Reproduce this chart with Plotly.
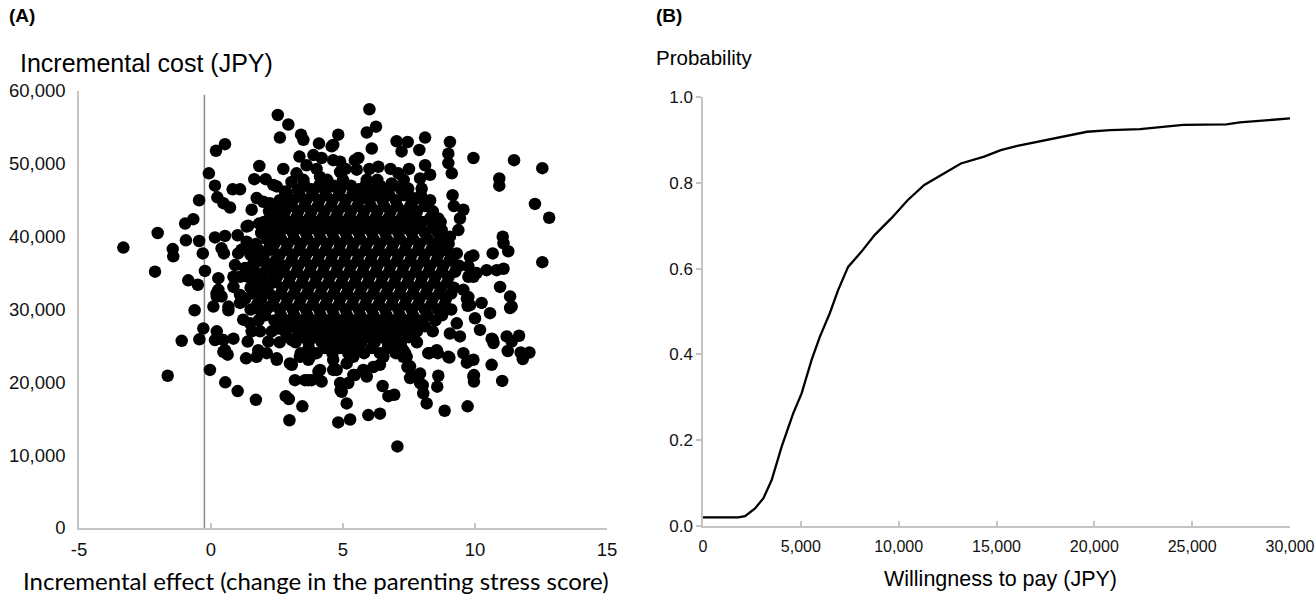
import plotly.graph_objects as go

# ---------------- Panel A data: incremental effect vs incremental cost ----------------
pts_left = [
    (-3.32, 38500), (-2.02, 40500), (-2.12, 35200), (-1.64, 20900), (-1.45, 38300), (-1.43, 37300),
    (-1.11, 25700), (-0.98, 41800), (-0.67, 42400), (-0.95, 39500), (-0.45, 39400), (-0.31, 37700),
    (-0.23, 35300), (-0.86, 34000), (-0.50, 33400), (-0.62, 29900), (-0.45, 45000), (-0.08, 48700),
    (0.15, 47000), (0.19, 51800), (0.53, 52700), (0.82, 46500), (1.10, 46500), (0.24, 45400),
    (0.47, 44600), (0.72, 44000), (0.15, 39900), (0.53, 40100), (0.40, 38400), (0.49, 37700),
    (0.28, 34300), (0.21, 32200), (1.01, 40200), (1.41, 41500), (1.82, 41800), (1.03, 37700),
    (1.35, 39300), (0.91, 36100), (1.10, 34500), (0.85, 33100), (1.10, 32000), (1.60, 36300),
    (2.11, 40000), (2.23, 38600), (2.11, 36300), (2.36, 42300), (2.68, 42700), (2.80, 44600),
    (1.60, 34300), (1.73, 32200), (0.09, 30400), (1.54, 43700), (1.73, 45300), (1.98, 44800),
    (1.83, 49700), (2.74, 49300), (1.64, 47900), (2.07, 47900), (2.49, 46900), (2.80, 46200),
    (3.05, 47500), (3.24, 48700), (-0.29, 27400), (-0.44, 25900), (0.22, 27000), (0.15, 25800),
    (0.47, 25800), (0.85, 26000), (0.47, 24200), (0.63, 23800), (-0.04, 21700), (0.54, 20000),
    (1.01, 18800), (1.70, 17600), (0.66, 29900), (1.10, 30900), (0.22, 31800), (0.53, 24400),
    (1.35, 41400), (1.16, 38200), (1.48, 38200), (1.29, 35700), (0.85, 34500), (0.28, 32700),
    (0.40, 31800), (0.66, 30400), (1.16, 31100), (1.48, 28100), (1.54, 27000), (1.86, 27000),
    (1.79, 24400), (1.86, 29900), (2.23, 30400), (1.86, 32700), (2.23, 33600), (1.98, 35000),
    (2.36, 35900), (1.98, 40900), (2.30, 40000), (2.23, 44600), (2.61, 43200), (2.36, 47100),
    (2.87, 46000), (1.33, 23300), (1.73, 23500), (2.11, 24000), (1.39, 25600), (2.17, 25600),
    (1.22, 28600), (2.55, 27400),
]

pts_bottom = [
    (2.83, 18100), (2.95, 17700), (3.46, 16700), (2.97, 14800), (4.82, 14500), (5.27, 14900),
    (2.49, 23100), (3.06, 22400), (3.18, 20300), (3.69, 20300), (4.19, 20100), (4.07, 21500),
    (4.76, 21700), (4.91, 18900), (5.14, 17100), (3.06, 25800), (3.69, 23100), (4.51, 25100),
    (4.63, 23100), (5.39, 21000), (2.49, 23300), (2.99, 22600), (3.37, 23500), (3.75, 23500),
    (3.56, 20300), (3.81, 20300), (4.13, 21700), (4.63, 21700), (5.14, 22600), (5.39, 23500),
    (5.90, 20800), (6.15, 22100), (6.53, 23500), (6.91, 24900), (7.03, 26500), (4.89, 19900),
    (4.95, 18700), (7.06, 11200), (5.45, 21000), (5.20, 19900), (6.40, 22400), (5.77, 21700),
    (7.28, 23500), (6.94, 18300), (6.72, 18100), (6.50, 19500), (6.40, 15700), (5.96, 15500),
    (8.17, 17100), (8.04, 18500), (7.92, 19900), (7.66, 20800), (7.54, 22200), (7.41, 23500),
    (7.28, 24400), (8.99, 23500), (8.23, 24000), (8.55, 24400), (7.92, 21200), (8.02, 19600),
    (7.54, 20600), (7.44, 22100), (7.35, 24000), (8.61, 20900), (8.57, 19400), (9.72, 16700),
    (8.85, 16100), (9.03, 23400), (8.59, 24000), (8.27, 24000),
]

pts_top = [
    (2.53, 56700), (2.93, 55400), (2.61, 53600), (3.41, 54000), (3.50, 53300), (4.82, 54000),
    (4.09, 52800), (4.57, 52400), (3.35, 51000), (3.88, 51200), (4.19, 50800), (4.63, 50500),
    (3.62, 49800), (4.13, 48200), (4.89, 48900), (5.45, 50500), (5.52, 49200), (5.39, 46400),
    (4.63, 46900), (3.88, 46400), (3.37, 45500), (6.00, 57500), (6.25, 55100), (5.90, 54300),
    (6.09, 52100), (7.03, 53100), (7.45, 53000), (8.11, 53600), (7.22, 51700), (7.89, 51900),
    (9.05, 53000), (8.99, 51400), (8.99, 50100), (9.12, 48700), (9.94, 50800), (11.48, 50500),
    (12.55, 49400), (10.92, 48000), (10.92, 47000), (8.11, 49800), (8.30, 48500), (7.92, 48000),
    (7.10, 48700), (6.84, 47300), (6.34, 49600), (5.58, 50800), (4.89, 50300), (4.63, 52600),
    (7.47, 46600), (7.85, 45300), (7.66, 45000), (7.47, 43400), (7.98, 46600), (7.54, 45500),
]

pts_right = [
    (12.27, 44500), (12.81, 42600), (12.55, 36500), (9.15, 45700), (9.20, 44200), (9.56, 43700),
    (9.43, 42500), (9.37, 40900), (11.05, 40000), (11.08, 39100), (11.26, 38000), (10.67, 37700),
    (9.94, 37400), (9.75, 35900), (10.44, 35400), (11.08, 35600), (9.75, 34500), (10.06, 35000),
    (10.95, 33100), (11.33, 31800), (11.39, 30400), (10.25, 30900), (9.69, 31500), (8.30, 42500),
    (8.61, 42500), (8.74, 40900), (8.86, 39500), (9.31, 37700), (9.05, 36800), (9.56, 32700),
    (9.05, 40000), (8.93, 38600), (9.81, 37200), (9.94, 34500), (10.82, 35400), (9.81, 30600),
    (10.57, 29500), (10.00, 28800), (10.19, 27200), (10.63, 26000), (10.70, 25400), (9.56, 24000),
    (9.94, 23100), (10.63, 22400), (9.94, 20800), (11.33, 30200), (9.75, 31700), (9.72, 30500),
    (10.67, 25900), (11.20, 26300), (11.67, 26400), (11.39, 25600), (11.24, 24300), (11.73, 24100),
    (12.06, 24100), (11.81, 23200), (11.03, 20200), (9.96, 21000), (9.96, 20100), (9.69, 22700),
    (9.05, 26700), (9.43, 26300), (9.31, 28100),
]

# dense centre of the cloud, read row by row (cost level, effects)
core_rows = [
    (49300, [4.0, 5.1, 6.0, 6.8, 7.5]),
    (47800, [3.5, 4.4, 5.0, 5.9, 6.3, 7.3]),
    (47000, [3.55, 4.1, 4.65, 5.3, 5.85, 6.4, 6.9]),
    (46500, [3.3, 3.8, 4.3, 4.9, 5.6, 6.1, 6.6, 7.2]),
    (45700, [2.85, 3.35, 3.85, 4.35, 4.85, 5.35, 5.85, 6.25, 6.75, 7.3, 7.95]),
    (45000, [2.6, 3.1, 3.6, 4.1, 4.6, 5.1, 5.6, 6.0, 6.5, 7.0, 7.6, 8.3]),
    (44200, [2.5, 3.05, 3.55, 4.05, 4.55, 5.05, 5.55, 6.05, 6.55, 7.05, 7.55, 8.1]),
    (43500, [2.2, 2.8, 3.3, 3.8, 4.3, 4.8, 5.3, 5.8, 6.3, 6.8, 7.3, 7.8, 8.4]),
    (42700, [2.25, 2.75, 3.25, 3.75, 4.25, 4.75, 5.25, 5.75, 6.25, 6.75, 7.25, 7.75, 8.35]),
    (42000, [2.0, 2.5, 3.0, 3.5, 4.0, 4.5, 5.0, 5.5, 6.0, 6.5, 7.0, 7.5, 8.0, 8.7]),
    (41200, [2.3, 2.85, 3.35, 3.85, 4.35, 4.85, 5.35, 5.85, 6.35, 6.85, 7.35, 7.85, 8.4]),
    (40500, [1.9, 2.6, 3.1, 3.6, 4.1, 4.6, 5.1, 5.6, 6.1, 6.6, 7.1, 7.6, 8.1, 8.6]),
    (39700, [2.1, 2.65, 3.15, 3.65, 4.15, 4.65, 5.15, 5.65, 6.15, 6.65, 7.15, 7.65, 8.2, 8.75]),
    (39000, [1.7, 2.4, 2.9, 3.4, 3.9, 4.4, 4.9, 5.4, 5.9, 6.4, 6.9, 7.4, 7.9, 8.5, 9.0]),
    (38200, [1.8, 2.3, 2.85, 3.35, 3.85, 4.35, 4.85, 5.35, 5.85, 6.35, 6.85, 7.35, 7.85, 8.35, 8.85]),
    (37500, [1.5, 2.0, 2.6, 3.1, 3.6, 4.1, 4.6, 5.1, 5.6, 6.1, 6.6, 7.1, 7.6, 8.1, 8.6, 9.2]),
    (36700, [1.85, 2.45, 3.05, 3.55, 4.05, 4.55, 5.05, 5.55, 6.05, 6.55, 7.05, 7.55, 8.05, 8.55, 9.1]),
    (36000, [1.6, 2.2, 2.8, 3.3, 3.8, 4.3, 4.8, 5.3, 5.8, 6.3, 6.8, 7.3, 7.8, 8.3, 8.8, 9.4]),
    (35200, [1.65, 2.2, 2.75, 3.25, 3.75, 4.25, 4.75, 5.25, 5.75, 6.25, 6.75, 7.25, 7.75, 8.25, 8.75, 9.25]),
    (34500, [1.4, 1.9, 2.5, 3.0, 3.5, 4.0, 4.5, 5.0, 5.5, 6.0, 6.5, 7.0, 7.5, 8.0, 8.5, 9.0]),
    (33700, [1.75, 2.35, 2.95, 3.45, 3.95, 4.45, 4.95, 5.45, 5.95, 6.45, 6.95, 7.45, 7.95, 8.45, 8.95]),
    (33000, [1.5, 2.1, 2.7, 3.2, 3.7, 4.2, 4.7, 5.2, 5.7, 6.2, 6.7, 7.2, 7.7, 8.2, 8.7, 9.2]),
    (32200, [1.6, 2.2, 2.65, 3.15, 3.65, 4.15, 4.65, 5.15, 5.65, 6.15, 6.65, 7.15, 7.65, 8.15, 8.65, 9.1]),
    (31500, [1.3, 1.9, 2.4, 2.9, 3.4, 3.9, 4.4, 4.9, 5.4, 5.9, 6.4, 6.9, 7.4, 7.9, 8.4, 8.9]),
    (30700, [1.75, 2.35, 2.85, 3.35, 3.85, 4.35, 4.85, 5.35, 5.85, 6.35, 6.85, 7.35, 7.85, 8.35, 8.85]),
    (30000, [1.5, 2.1, 2.6, 3.1, 3.6, 4.1, 4.6, 5.1, 5.6, 6.1, 6.6, 7.1, 7.6, 8.1, 8.6, 9.1]),
    (29200, [2.05, 2.65, 3.15, 3.65, 4.15, 4.65, 5.15, 5.65, 6.15, 6.65, 7.15, 7.65, 8.2, 8.75]),
    (28500, [1.8, 2.4, 2.9, 3.4, 3.9, 4.4, 4.9, 5.4, 5.9, 6.4, 6.9, 7.4, 7.9, 8.5]),
    (27700, [2.55, 3.05, 3.55, 4.05, 4.55, 5.05, 5.55, 6.05, 6.55, 7.05, 7.55, 8.1]),
    (27000, [2.3, 2.8, 3.3, 3.8, 4.3, 4.8, 5.3, 5.8, 6.3, 6.8, 7.3, 7.8, 8.4]),
    (26200, [2.9, 3.45, 3.95, 4.45, 4.95, 5.45, 5.95, 6.45, 6.95, 7.5]),
    (25500, [2.6, 3.2, 3.7, 4.2, 4.7, 5.2, 5.7, 6.2, 6.7, 7.2, 7.8]),
    (24700, [3.7, 4.3, 4.9, 5.5, 6.1, 6.7]),
    (24000, [3.4, 4.0, 4.6, 5.2, 5.8, 6.4, 7.0]),
]
pts_core = [(x, y) for y, xs in core_rows for x in xs]

all_pts = pts_left + pts_bottom + pts_top + pts_right + pts_core
effect = [p[0] for p in all_pts]
cost = [p[1] for p in all_pts]

a_xticks = [-5, 0, 5, 10, 15]
a_xticktext = ["-5", "0", "5", "10", "15"]
a_yticks = [0, 10000, 20000, 30000, 40000, 50000, 60000]
a_yticktext = ["0", "10,000", "20,000", "30,000", "40,000", "50,000", "60,000"]

# ---------------- Panel B data: cost-effectiveness acceptability curve ----------------
wtp = [0, 1800, 2150, 2660, 3090, 3510, 4020, 4615, 5040, 5550, 5970, 6480, 6905, 7415, 8090,
       8770, 9620, 10470, 11310, 12330, 13180, 14370, 15220, 16065, 17250, 18440, 19630, 20810,
       22340, 24540, 26750, 27430, 30000]
prob = [0.020, 0.020, 0.023, 0.041, 0.065, 0.107, 0.185, 0.263, 0.309, 0.387, 0.441, 0.496, 0.550,
        0.604, 0.639, 0.678, 0.717, 0.760, 0.795, 0.822, 0.845, 0.861, 0.876, 0.886, 0.897, 0.907,
        0.919, 0.923, 0.925, 0.935, 0.936, 0.941, 0.950]
b_xticks = [0, 5000, 10000, 15000, 20000, 25000, 30000]
b_xticktext = ["0", "5,000", "10,000", "15,000", "20,000", "25,000", "30,000"]
b_yticks = [0, 0.2, 0.4, 0.6, 0.8, 1.0]
b_yticktext = ["0.0", "0.2", "0.4", "0.6", "0.8", "1.0"]

W, H = 1316, 595
SANS = "Liberation Sans, Arial, sans-serif"
AXC = "#c4c4c4"

fig = go.Figure()
fig.add_trace(go.Scatter(x=effect, y=cost, mode="markers",
                         marker=dict(size=12.5, color="black", line=dict(width=0)),
                         xaxis="x", yaxis="y", showlegend=False, hoverinfo="skip"))
fig.add_trace(go.Scatter(x=wtp, y=prob, mode="lines",
                         line=dict(color="black", width=2.3),
                         xaxis="x2", yaxis="y2", showlegend=False, hoverinfo="skip"))

fig.update_layout(
    width=W, height=H,
    margin=dict(l=0, r=0, t=0, b=0, autoexpand=False),
    paper_bgcolor="white", plot_bgcolor="white",
    xaxis=dict(domain=[79 / W, 607 / W], range=[-5, 15], tickvals=a_xticks, ticktext=a_xticktext,
               automargin=False, ticks="inside", ticklen=5, tickcolor=AXC, tickwidth=1.5,
               showline=True, linecolor=AXC, linewidth=1.5, showgrid=False, zeroline=False,
               ticklabelstandoff=4, ticklabeloverflow="allow",
               tickfont=dict(family=SANS, size=18.5, color="#111"), anchor="y"),
    yaxis=dict(domain=[1 - 528 / H, 1 - 91 / H], range=[0, 60000], tickvals=a_yticks, automargin=False,
               ticktext=a_yticktext, ticks="", showline=True, linecolor=AXC, linewidth=1.5,
               showgrid=False, zeroline=False, ticklabelstandoff=8, ticklabeloverflow="allow",
               tickfont=dict(family=SANS, size=18.5, color="#111"), anchor="x"),
    xaxis2=dict(domain=[703 / W, 1290 / W], range=[0, 30000], tickvals=b_xticks, automargin=False,
                ticktext=b_xticktext, ticks="inside", ticklen=5, tickcolor=AXC, tickwidth=1.5,
                showline=True, linecolor=AXC, linewidth=1.5, showgrid=False, zeroline=False,
                ticklabelstandoff=5, ticklabeloverflow="allow",
                tickfont=dict(family=SANS, size=16, color="#111"), anchor="y2"),
    yaxis2=dict(domain=[1 - 526 / H, 1 - 97 / H], range=[0, 1], tickvals=b_yticks, automargin=False,
                ticktext=b_yticktext, ticks="outside", ticklen=5, tickcolor=AXC, tickwidth=1.5,
                showline=True, linecolor=AXC, linewidth=1.5, showgrid=False, zeroline=False,
                ticklabeloverflow="allow",
                tickfont=dict(family=SANS, size=17, color="#111"), anchor="x2"),
    shapes=[dict(type="line", xref="x", yref="y", x0=-0.25, x1=-0.25, y0=0, y1=59500,
                 line=dict(color="#8a8a8a", width=1.5), layer="below")],
)

ann = [
    dict(text="<b>(A)</b>", x=7 / W, y=1 - 15 / H, xanchor="left", yanchor="middle",
         font=dict(family=SANS, size=19, color="black")),
    dict(text="Incremental cost (JPY)", x=18 / W, y=1 - 63 / H, xanchor="left", yanchor="middle",
         font=dict(family=SANS, size=25, color="black")),
    dict(text="Incremental effect (change in the parenting stress score)", x=316 / W, y=1 - 580 / H,
         xanchor="center", yanchor="middle", font=dict(family="Lato, Carlito, sans-serif", size=24, color="black")),
    dict(text="<b>(B)</b>", x=654 / W, y=1 - 15 / H, xanchor="left", yanchor="middle",
         font=dict(family=SANS, size=19, color="black")),
    dict(text="Probability", x=654 / W, y=1 - 58 / H, xanchor="left", yanchor="middle",
         font=dict(family=SANS, size=20.5, color="black")),
    dict(text="Willingness to pay (JPY)", x=1000 / W, y=1 - 579 / H, xanchor="center", yanchor="middle",
         font=dict(family=SANS, size=21.5, color="black")),
]
for a in ann:
    a.update(xref="paper", yref="paper", showarrow=False)
fig.update_layout(annotations=ann)

fig.write_html("out.html", config={"displayModeBar": False},
               post_script="document.body.style.margin='0px';document.body.style.overflow='hidden';")
